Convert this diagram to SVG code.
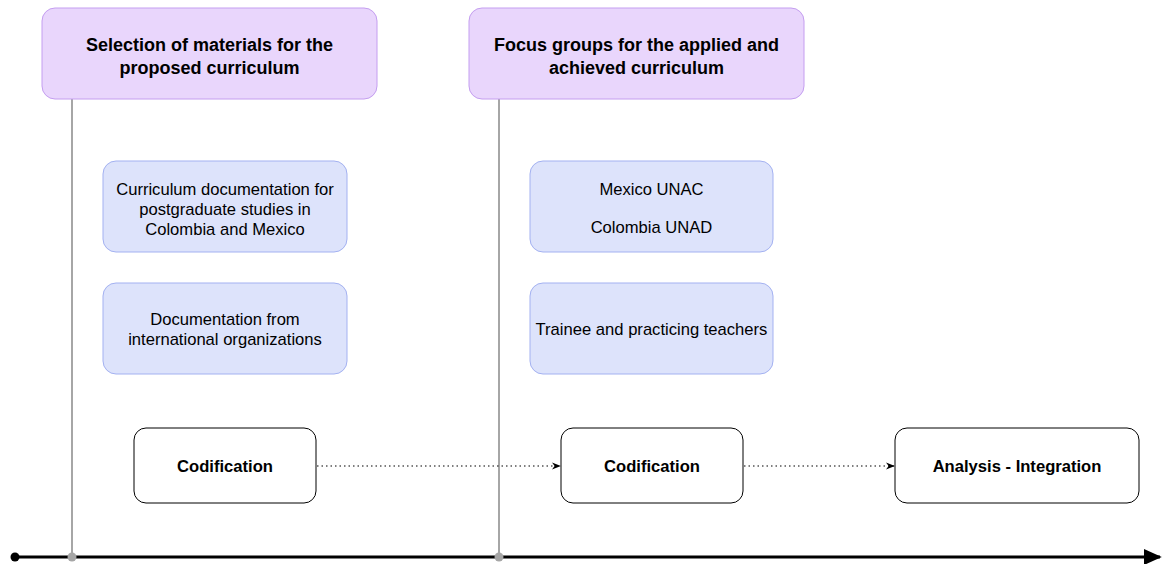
<svg xmlns="http://www.w3.org/2000/svg" width="1162" height="564" viewBox="0 0 1162 564">
<style>
.ph{fill:#e9d6fc;stroke:#c49ef0;stroke-width:1}
.bl{fill:#dde3fb;stroke:#a3b1f1;stroke-width:1}
.wh{fill:#ffffff;stroke:#000000;stroke-width:1}
text{font-family:"Liberation Sans",Arial,sans-serif;fill:#000;text-anchor:middle}
.h{font-weight:bold;font-size:18px}
.b{font-weight:bold;font-size:16.6px}
.n{font-size:16.6px}
.vl{stroke:#a6a6a6;stroke-width:2}
.dot{stroke:#000;stroke-width:1.2;stroke-dasharray:1.5 3;fill:none}
</style>
<defs>
<marker id="ah" viewBox="0 0 10 10" refX="9" refY="5" markerWidth="9" markerHeight="9" markerUnits="userSpaceOnUse" orient="auto"><path d="M0,1 L10,5 L0,9 L3,5 Z" fill="#000"/></marker>
<marker id="ta" viewBox="0 0 10 10" refX="9" refY="5" markerWidth="6" markerHeight="6" orient="auto"><path d="M0,0.5 L10,5 L0,9.5 Z" fill="#000"/></marker>
</defs>
<g id="timeline">
<line x1="15" y1="557" x2="1160" y2="557" stroke="#000" stroke-width="3" marker-end="url(#ta)"/>
<circle cx="15" cy="557" r="4.5" fill="#000"/>
</g>
<g id="connectors">
<line class="vl" x1="72" y1="99" x2="72" y2="557"/>
<line class="vl" x1="499" y1="99" x2="499" y2="557"/>
<circle cx="72" cy="557" r="4.5" fill="#a6a6a6"/>
<circle cx="499" cy="557" r="4.5" fill="#a6a6a6"/>
<line class="dot" x1="317" y1="466" x2="560" y2="466" marker-end="url(#ah)"/>
<line class="dot" x1="744" y1="466" x2="894" y2="466" marker-end="url(#ah)"/>
</g>
<g id="phase1">
<rect class="ph" x="42" y="8" width="335" height="91" rx="13"/>
<text class="h" x="209.5" y="51">Selection of materials for the</text>
<text class="h" x="209.5" y="74">proposed curriculum</text>
</g>
<g id="phase2">
<rect class="ph" x="469" y="8" width="335" height="91" rx="13"/>
<text class="h" x="636.5" y="51">Focus groups for the applied and</text>
<text class="h" x="636.5" y="74">achieved curriculum</text>
</g>
<g id="doc1">
<rect class="bl" x="103" y="161" width="244" height="91" rx="13"/>
<text class="n" x="225" y="195">Curriculum documentation for</text>
<text class="n" x="225" y="215">postgraduate studies in</text>
<text class="n" x="225" y="234.5">Colombia and Mexico</text>
</g>
<g id="doc2">
<rect class="bl" x="103" y="283" width="244" height="91" rx="13"/>
<text class="n" x="225" y="325">Documentation from</text>
<text class="n" x="225" y="345">international organizations</text>
</g>
<g id="uni">
<rect class="bl" x="530" y="161" width="243" height="91" rx="13"/>
<text class="n" x="651.5" y="195">Mexico UNAC</text>
<text class="n" x="651.5" y="232.5">Colombia UNAD</text>
</g>
<g id="teachers">
<rect class="bl" x="530" y="283" width="243" height="91" rx="13"/>
<text class="n" x="651.5" y="335">Trainee and practicing teachers</text>
</g>
<g id="cod1">
<rect class="wh" x="134" y="428" width="182" height="75" rx="12"/>
<text class="b" x="225" y="472">Codification</text>
</g>
<g id="cod2">
<rect class="wh" x="561" y="428" width="182" height="75" rx="12"/>
<text class="b" x="652" y="472">Codification</text>
</g>
<g id="analysis">
<rect class="wh" x="895" y="428" width="244" height="75" rx="12"/>
<text class="b" x="1017" y="472">Analysis - Integration</text>
</g>
</svg>
